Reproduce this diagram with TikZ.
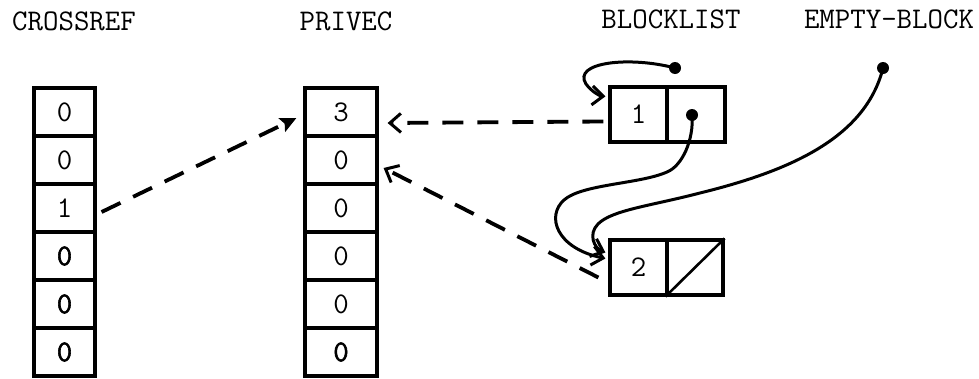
\documentclass[tikz,border=0pt]{standalone}
\usepackage{fontspec}
\setmonofont{Latin Modern Mono}
\newfontfamily\ovst[FakeBold=2]{Latin Modern Mono}
\usetikzlibrary{arrows.meta,calc}
\begin{document}
\begin{tikzpicture}[x=1pt,y=-1pt,
  font=\ttfamily\fontsize{30}{34}\selectfont,
  cell/.style={draw,line width=3.2pt,inner sep=0pt,minimum height=48pt},
  crcell/.style={cell,minimum width=61pt},
  pvcell/.style={cell,minimum width=72pt},
  half/.style={draw,line width=3.2pt,inner sep=0pt,minimum height=55pt,minimum width=57pt},
  title/.style={anchor=base},
  dashlink/.style={line width=3.8pt,dash pattern=on 21pt off 14pt},
  openhead/.style={-{Straight Barb[length=11pt,width=19pt,line width=3pt]}},
  link/.style={line width=3pt,line cap=round},
  dot/.style={circle,fill,inner sep=0pt,minimum size=12pt}
]
\useasboundingbox (0,0) rectangle (979,378);

% column titles
\node[title] (tcr) at (74,30) {CROSSREF};
\node[title] (tpv) at (346,30) {PRIVEC};
\node[title] (tbl) at (671,28) {BLOCKLIST};
\node[title] (teb) at (889,28) {EMPTY-BLOCK};

% CROSSREF vector
\node[crcell] (cr1) at (64.5,112) {0};
\node[crcell] (cr2) at (64.5,160) {0};
\node[crcell] (cr3) at (64.5,208) {1};
\node[crcell] (cr4) at (64.5,256) {\ovst 0};
\node[crcell] (cr5) at (64.5,304) {\ovst 0};
\node[crcell] (cr6) at (64.5,352) {\ovst 0};

% PRIVEC vector
\node[pvcell] (pv1) at (341,112) {3};
\node[pvcell] (pv2) at (341,160) {0};
\node[pvcell] (pv3) at (341,208) {0};
\node[pvcell] (pv4) at (341,256) {0};
\node[pvcell] (pv5) at (341,304) {0};
\node[pvcell] (pv6) at (341,352) {\ovst 0};

% block 1
\node[half] (b1a) at (638.5,114.5) {1};
\node[half,minimum width=58pt] (b1b) at (696,114.5) {};
% block 2
\node[half] (b2a) at (638.5,267.5) {2};
\node[half,minimum width=56pt] (b2b) at (695,267.5) {};
\draw[line width=2.6pt] (b2b.south west) -- (b2b.north east);

% pointer origins
\node[dot] (bldot) at (675,68) {};
\node[dot] (ebdot) at (883,68) {};
\node[dot] (b1dot) at (692,115) {};

% dashed references into PRIVEC
\draw[dashlink,-{Stealth[length=16pt,width=15pt,inset=3pt]}]
  ($(cr3.east)+(5,4)$) -- ($(pv1.west)+(-7,6)$);
\draw[dashlink,openhead]
  ($(b1a.west)+(-5,7)$) -- ($(pv1.east)+(9,11)$);
\draw[dashlink,openhead]
  ($(b2a.west)+(-10,10)$) -- ($(pv2.east)+(5,8)$);

% list pointers
\draw[link,openhead] (bldot.center)
  .. controls (630,56) and (572,62) .. (586,84)
  .. controls (592,92) and (600,96) .. ($(b1a.north west)+(-3,11)$);
\draw[link,openhead] (b1dot.center)
  .. controls (694,140) and (682,166) .. (667,172)
  .. controls (640,184) and (582,184) .. (564,200)
  .. controls (546,216) and (556,248) .. ($(b2a.west)+(-3,-9)$);
\draw[link,openhead] (ebdot.center)
  .. controls (865,140) and (785,172) .. (700,193)
  .. controls (650,206) and (612,210) .. (598,224)
  .. controls (588,234) and (594,248) .. ($(b2a.west)+(-3,-15)$);
\end{tikzpicture}
\end{document}
